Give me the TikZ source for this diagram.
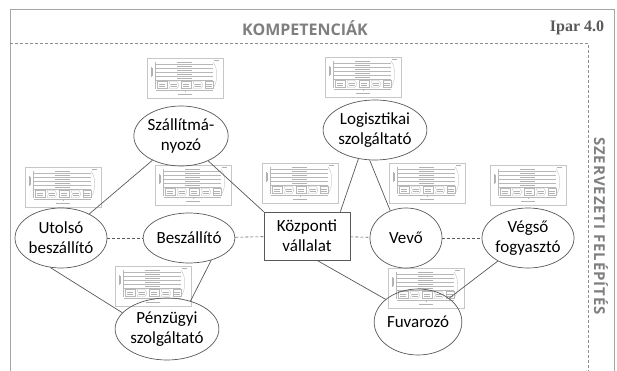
\documentclass[tikz,border=0pt]{standalone}
\usepackage{fontspec}
\setmainfont{Carlito}
\newfontfamily\headfont{Open Sans}
\newfontfamily\sidefont[LetterSpace=6]{Open Sans}
\newfontfamily\ipfont{Liberation Serif}
\usetikzlibrary{shapes.geometric}
\definecolor{headgray}{HTML}{7F7F7F}
\definecolor{framegray}{HTML}{A6A6A6}
\definecolor{linegray}{HTML}{595959}
\tikzset{
  ell/.style={ellipse, draw=linegray, line width=0.7pt, inner sep=0pt, align=center,
    font=\fontsize{17}{20}\selectfont},
  boxnode/.style={rectangle, draw=linegray, line width=0.7pt, inner sep=0pt, align=center,
    minimum width=86pt, minimum height=48pt, font=\fontsize{17}{20}\selectfont},
  conn/.style={draw=linegray, line width=0.7pt},
  dconn/.style={draw=linegray, line width=0.6pt, dash pattern=on 3pt off 2pt},
  thumbline/.style={draw=black!22, line width=0.4pt},
  thumbbar/.style={draw=black!28, line width=0.3pt},
  thumbtxt/.style={draw=black!30, line width=0.8pt},
  thumb/.pic={
    \draw[thumbline] (0,0) rectangle (76,40);
    \draw[thumbtxt, line width=0.5pt] (67,2.5) -- (72,2.5);
    \draw[thumbtxt, line width=0.6pt] (4,9) -- (4,19);
    \draw[thumbtxt, line width=0.6pt] (5.6,10) -- (5.6,18);
    \draw[thumbbar] (8.5,4) -- (8.5,31);
    \foreach \yy in {6,10,14,18,22}{
      \draw[thumbbar] (8.5,\yy) -- (66,\yy);
      \draw[thumbtxt, line width=0.6pt] (30,\yy-1.6) -- (45,\yy-1.6);
    }
    \draw[thumbbar] (66,4) .. controls (71,10) and (71,24) .. (66,30);
    \draw[thumbbar] (10,23.5) rectangle (20,30.5);
    \draw[thumbbar] (22,23.5) -- (30,23.5) -- (32,27) -- (30,30.5) -- (22,30.5) -- (23.5,27) -- cycle;
    \draw[thumbbar] (34,23.5) rectangle (44,30.5);
    \draw[thumbbar] (46,23.5) -- (54,23.5) -- (56,27) -- (54,30.5) -- (46,30.5) -- (47.5,27) -- cycle;
    \draw[thumbbar] (58,23.5) rectangle (66,30.5);
    \foreach \xx in {15,27,39,51,62}{
      \draw[thumbtxt, line width=0.4pt] (\xx-3,26) -- (\xx+3,26);
      \draw[thumbtxt, line width=0.4pt] (\xx-3,28) -- (\xx+3,28);
    }
    \draw[thumbbar] (8.5,32) -- (66,32);
    \draw[thumbbar] (38,32) -- (38,34);
    \draw[thumbtxt, line width=0.6pt] (31,36) -- (45,36);
  }
}
\begin{document}
\begin{tikzpicture}[x=1pt,y=-1pt]
\useasboundingbox (0,0) rectangle (617,371);
\fill[white] (0,0) rectangle (617,371);
% frames
\draw[draw=framegray, line width=1pt] (10,371) -- (10,10) -- (614,10) -- (614,371);
\draw[draw=black!45, line width=0.6pt, dash pattern=on 3pt off 2pt] (10,43) -- (588,43) -- (588,371);
% headings
\node[font=\headfont\bfseries\fontsize{16}{18}\selectfont, text=headgray] (komp) at (305,28) {KOMPETENCIÁK};
\node[font=\ipfont\bfseries\fontsize{16}{18}\selectfont, text=black!65] (ipar) at (577,28) {Ipar 4.0};
\node[font=\sidefont\bfseries\fontsize{15}{16}\selectfont, text=headgray, rotate=-90] (szerv) at (601,226) {SZERVEZETI FELÉPÍTÉS};
% thumbnails
\pic (t1) at (147,58) {thumb};
\pic (t2) at (325,57) {thumb};
\pic (t3) at (25,167) {thumb};
\pic (t4) at (155,165) {thumb};
\pic (t5) at (262,163) {thumb};
\pic (t6) at (389,163) {thumb};
\pic (t7) at (490,165) {thumb};
\pic (t8) at (115,266) {thumb};
\pic (t9) at (388,268) {thumb};
% nodes
\node[ell, minimum width=94pt, minimum height=60pt] (szall) at (181,136) {Szállítmá-\\nyozó};
\node[ell, minimum width=100pt, minimum height=60pt] (logi) at (375,130) {Logisztikai\\szolgáltató};
\node[ell, minimum width=92pt, minimum height=60pt] (utolso) at (61,238) {Utolsó\\beszállító};
\node[ell, minimum width=86pt, minimum height=50pt] (besz) at (189,238) {Beszállító};
\node[boxnode] (kozp) at (307,236) {Központi\\vállalat};
\node[ell, minimum width=72pt, minimum height=60pt] (vevo) at (406,238) {Vevő};
\node[ell, minimum width=92pt, minimum height=60pt] (vegso) at (528,238) {Végső\\fogyasztó};
\node[ell, minimum width=100pt, minimum height=62pt] (penz) at (167,329) {Pénzügyi\\szolgáltató};
\node[ell, minimum width=84pt, minimum height=66pt] (fuv) at (418,322) {Fuvarozó};
% connectors
\draw[conn] (utolso) -- (szall);
\draw[conn] (szall) -- (kozp.north west);
\draw[conn] (utolso.250) -- (penz.160);
\draw[conn] (besz.315) -- (penz.50);
\draw[conn] ([xshift=-10pt]kozp.north east) -- (logi.240);
\draw[conn] (logi.260) -- (vevo.120);
\draw[conn] ([xshift=10pt]kozp.south) -- (fuv.145);
\draw[conn] (vegso) -- (fuv);
\draw[dconn] (utolso) -- (besz);
\draw[dconn] (besz) -- (kozp);
\draw[dconn] (kozp) -- (vevo);
\draw[dconn] (vevo) -- (vegso);
\end{tikzpicture}
\end{document}
